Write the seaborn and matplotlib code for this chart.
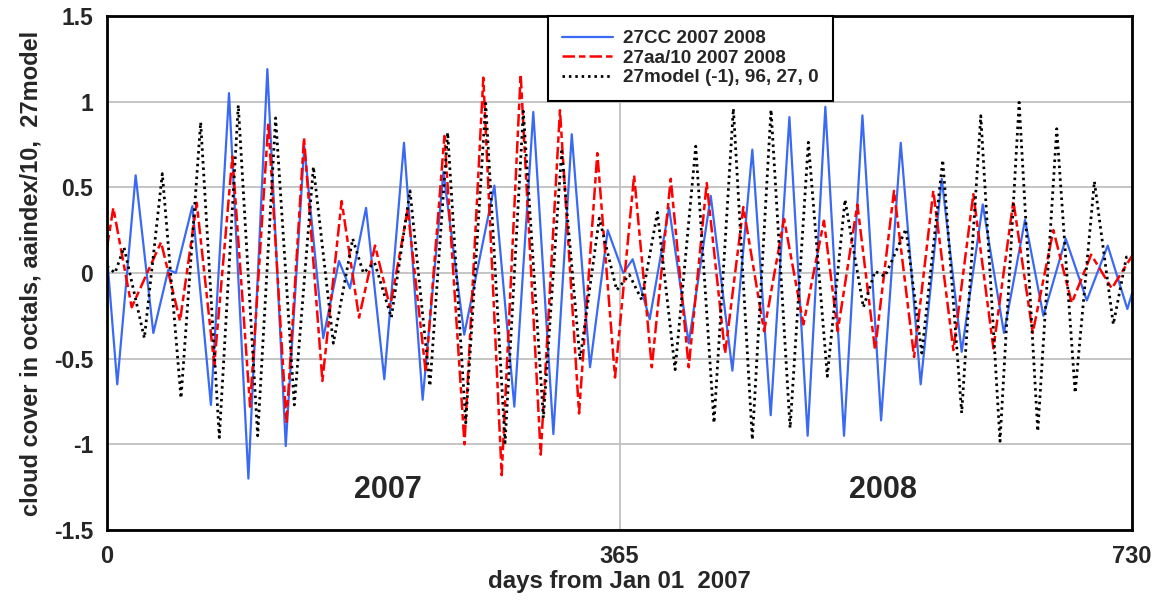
import matplotlib
matplotlib.use("Agg")
import matplotlib.pyplot as plt
from matplotlib import font_manager
import seaborn as sns
import pandas as pd

# ---- data (day, value at extrema) ----
days_cc = [0, 7.3, 20.4, 33, 43.7, 49, 60.8, 74, 86.9, 100.7, 114.2, 127.3, 140.5, 154,
           165.2, 173, 184.5, 197.5, 211.5, 224.8, 239.6, 254.4, 275.9, 290.1, 303.6, 317.9,
           331, 344, 356.6, 367.7, 374.4, 386.5, 400.3, 414.3, 430, 445.4, 459.6, 472.7, 486,
           499, 511.6, 524.9, 538, 551.3, 565.3, 579.5, 594.5, 608.7, 623.7, 638.8, 653.8,
           666.9, 682.8, 697.8, 712.7, 726.7, 730]
vals_cc = [0.1, -0.65, 0.57, -0.35, 0.02, 0.0, 0.39, -0.77, 1.05, -1.2, 1.19, -1.01, 0.74, -0.38,
           0.07, -0.09, 0.38, -0.62, 0.76, -0.74, 0.59, -0.36, 0.51, -0.78, 0.94, -0.94,
           0.81, -0.55, 0.25, 0.0, 0.08, -0.27, 0.38, -0.41, 0.45, -0.57, 0.72, -0.83, 0.91,
           -0.95, 0.97, -0.95, 0.92, -0.86, 0.76, -0.65, 0.55, -0.46, 0.40, -0.35, 0.31,
           -0.25, 0.20, -0.16, 0.16, -0.21, -0.12]

days_aa = [0, 4.5, 17.6, 38.5, 52, 63.9, 76.4, 89.3, 101.9, 114.9, 127.8, 140.3, 153.4, 167.1,
           179.5, 190.9, 201.6, 214.2, 227, 240.3, 254.6, 268, 281.1, 294.6, 308.9, 322.6,
           336.2, 349.2, 361.8, 375.4, 388, 401.5, 414.3, 427.1, 440.2, 453.2, 468, 482.2,
           496, 510.6, 520.4, 534.4, 547, 560.5, 574.8, 588.5, 602.8, 617, 631.3, 645.5,
           659.3, 674, 687.1, 700.9, 715.6, 730]
vals_aa = [0.15, 0.38, -0.2, 0.18, -0.28, 0.41, -0.535, 0.68, -0.78, 0.875, -0.875, 0.79, -0.63,
           0.42, -0.26, 0.16, -0.2, 0.37, -0.58, 0.80, -1.0, 1.14, -1.18, 1.16, -1.06, 0.95,
           -0.82, 0.70, -0.61, 0.57, -0.55, 0.55, -0.55, 0.525, -0.47, 0.385, -0.34, 0.315,
           -0.30, 0.305, -0.34, 0.40, -0.45, 0.48, -0.49, 0.48, -0.45, 0.46, -0.44, 0.42,
           -0.35, 0.25, -0.175, 0.107, -0.09, 0.10]

days_model = [0, 5.7, 12.1, 26.6, 39.4, 52.7, 66.7, 80, 93.5, 107.3, 120.1, 133.4, 147, 161.2,
              175, 182.6, 190.6, 202.5, 215.8, 230, 242.6, 255.5, 269.7, 283.5, 296.5, 310.8,
              323.8, 336.9, 350.6, 363, 372, 380.8, 392, 404.6, 419.3, 432.3, 446.1, 459.6,
              472.9, 486.5, 499.5, 513, 525.6, 538.7, 547, 554, 569, 580.3, 595.2, 608.7,
              622.3, 636, 649.6, 662.9, 676.4, 689.5, 703.2, 716.7, 726, 730]
vals_model = [0.04, 0.0, 0.15, -0.38, 0.58, -0.73, 0.88, -0.96, 0.98, -0.95, 0.905, -0.77, 0.62,
              -0.41, 0.2, 0.0, 0.06, -0.26, 0.48, -0.66, 0.82, -0.875, 0.99, -0.99, 0.944,
              -0.846, 0.71, -0.506, 0.32, -0.1, -0.01, -0.156, 0.354, -0.564, 0.74, -0.875,
              0.96, -0.973, 0.953, -0.905, 0.763, -0.603, 0.428, -0.2, 0.01, -0.02, 0.257,
              -0.467, 0.66, -0.817, 0.918, -0.982, 0.996, -0.924, 0.842, -0.70, 0.535, -0.30,
              0.093, 0.09]

series_labels = ["27CC 2007 2008", "27aa/10 2007 2008", "27model (-1), 96, 27, 0"]
x_ticks = [0, 365, 730]
y_ticks = [-1.5, -1, -0.5, 0, 0.5, 1, 1.5]
y_tick_labels = ["-1.5", "-1", "-0.5", "0", "0.5", "1", "1.5"]
year_labels = ["2007", "2008"]
year_pos_days = [200, 553]

sns.set_theme(style="white")
plt.rcParams["font.family"] = ["Liberation Sans", "DejaVu Sans"]
plt.rcParams["font.weight"] = "bold"

# condensed font for the x axis texts, if installed
try:
    font_manager.findfont(font_manager.FontProperties(family="Liberation Sans Narrow",
                                                      weight="bold"),
                          fallback_to_default=False)
    narrow = ["Liberation Sans Narrow"]
    xtick_size, xlabel_size = 20, 21
except Exception:
    narrow = ["Liberation Sans"]
    xtick_size, xlabel_size = 17, 17.3

fig = plt.figure(figsize=(11.6, 6.02), dpi=100)
ax = fig.add_axes([107 / 1160, 1 - 530 / 602, 1025 / 1160, 514 / 602])

df_cc = pd.DataFrame({"day": days_cc, "value": vals_cc})
df_aa = pd.DataFrame({"day": days_aa, "value": vals_aa})
df_model = pd.DataFrame({"day": days_model, "value": vals_model})

sns.lineplot(data=df_cc, x="day", y="value", ax=ax, color="#3a6af5", linewidth=1.6,
             label=series_labels[0], sort=False, solid_joinstyle="round")
sns.lineplot(data=df_aa, x="day", y="value", ax=ax, color="#ff0000", linewidth=1.8,
             linestyle=(0, (5, 1.6, 2.6, 1.6)), label=series_labels[1], sort=False,
             dash_joinstyle="round")
sns.lineplot(data=df_model, x="day", y="value", ax=ax, color="black", linewidth=2.0,
             linestyle=(0, (0.9, 1.4)), label=series_labels[2], sort=False)

ax.set_xlim(0, 730)
ax.set_ylim(-1.5, 1.5)
ax.set_xticks(x_ticks)
ax.set_yticks(y_ticks)
ax.set_yticklabels(y_tick_labels)
ax.grid(True, color="#c0c0c0", linewidth=1.3)
ax.set_axisbelow(True)
ax.tick_params(length=0)
for lab in ax.get_yticklabels():
    lab.set_fontsize(16.5)
    lab.set_fontweight("bold")
for lab in ax.get_xticklabels():
    lab.set_fontsize(xtick_size)
    lab.set_fontweight("bold")
    lab.set_family(narrow)
ax.tick_params(axis="y", pad=10)
ax.tick_params(axis="x", pad=11)

ax.set_xlabel("days from Jan 01  2007", fontsize=xlabel_size, fontweight="bold",
              family=narrow, labelpad=1)
ax.set_ylabel("cloud cover in octals, aaindex/10,  27model", fontsize=17, fontweight="bold",
              labelpad=8)

for sp in ax.spines.values():
    sp.set_visible(True)
    sp.set_color("black")
    sp.set_linewidth(2)

for lab, d in zip(year_labels, year_pos_days):
    ax.text(d, -1.265, lab, ha="center", va="center", fontsize=22, fontweight="bold")

leg = ax.legend(loc="upper left", bbox_to_anchor=(0.430, 1.0), borderaxespad=0,
                frameon=True, fancybox=False, framealpha=1, edgecolor="black",
                prop={"weight": "bold", "size": 13.6}, handlelength=2.7,
                handletextpad=0.55, borderpad=0.75, labelspacing=0.12)
leg.get_frame().set_linewidth(1.5)

fig.savefig("out.png", dpi=100)
